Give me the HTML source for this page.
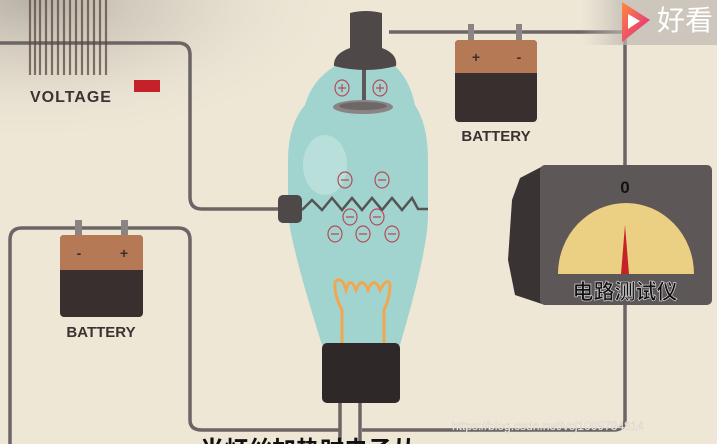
<!DOCTYPE html>
<html><head><meta charset="utf-8"><style>
html,body{margin:0;padding:0;background:#efe7d6;}
svg{display:block;}
</style></head><body>
<svg width="717" height="444" viewBox="0 0 717 444" xmlns="http://www.w3.org/2000/svg">
<defs>
<radialGradient id="vig" cx="0.1" cy="0" r="1">
<stop offset="0" stop-color="#8a8580" stop-opacity="0.55"/>
<stop offset="0.5" stop-color="#b0aba3" stop-opacity="0.25"/>
<stop offset="1" stop-color="#efe7d6" stop-opacity="0"/>
</radialGradient>
<linearGradient id="logo" x1="0" y1="0" x2="1" y2="1">
<stop offset="0" stop-color="#ff8a3c"/><stop offset="1" stop-color="#e0208a"/>
</linearGradient>
<linearGradient id="logobg" x1="0" y1="0" x2="1" y2="0">
<stop offset="0" stop-color="#cfcac2" stop-opacity="0"/><stop offset="0.3" stop-color="#bdb8b0" stop-opacity="0.7"/>
</linearGradient>
</defs>
<rect width="717" height="444" fill="#efe7d6"/>
<rect width="330" height="150" fill="url(#vig)"/>

<g fill="none" stroke="#6b6566" stroke-width="3.5">
<path d="M0 43 H178 Q190 43 190 55 V197 Q190 209 202 209 H282"/>
<path d="M389 32 H625 V170"/>
<path d="M625 300 V420 Q625 430 613 430 H362"/>
<path d="M10 444 V240 Q10 228 22 228 H178 Q190 228 190 240 V420 Q190 430 202 430 H340"/>
<path d="M340 400 V444 M360 400 V444"/>
</g>

<g>
<g stroke="#5a4a40" stroke-width="2.2" opacity="0.75">
<path d="M30 0V75M35 0V75M40 0V75M46 0V75M52 0V75M58 0V75M64 0V75M70 0V75M76 0V75M82 0V75M88 0V75M94 0V75M100 0V75M106 0V75"/>
</g>
<text x="30" y="102" font-family="Liberation Sans, sans-serif" font-weight="bold" font-size="16" fill="#3b3333" letter-spacing="1">VOLTAGE</text>
<rect x="134" y="80" width="26" height="12" fill="#c42228"/>
</g>

<g>
<rect x="468" y="24" width="6" height="18" fill="#8b8485"/>
<rect x="516" y="24" width="6" height="18" fill="#8b8485"/>
<rect x="455" y="40" width="82" height="82" rx="4" fill="#3a2f2f"/>
<path d="M455 44 Q455 40 459 40 H533 Q537 40 537 44 V73 H455Z" fill="#b57a55"/>
<text x="476" y="62" font-family="Liberation Sans, sans-serif" font-weight="bold" font-size="14" fill="#3a2f2f" text-anchor="middle">+</text>
<text x="519" y="62" font-family="Liberation Sans, sans-serif" font-weight="bold" font-size="14" fill="#3a2f2f" text-anchor="middle">-</text>
<text x="496" y="141" font-family="Liberation Sans, sans-serif" font-weight="bold" font-size="15" fill="#3b3333" text-anchor="middle">BATTERY</text>
</g>

<g>
<rect x="75" y="220" width="7" height="18" fill="#8b8485"/>
<rect x="121" y="220" width="7" height="18" fill="#8b8485"/>
<rect x="60" y="235" width="83" height="82" rx="4" fill="#3a2f2f"/>
<path d="M60 239 Q60 235 64 235 H139 Q143 235 143 239 V270 H60Z" fill="#b57a55"/>
<text x="79" y="258" font-family="Liberation Sans, sans-serif" font-weight="bold" font-size="14" fill="#3a2f2f" text-anchor="middle">-</text>
<text x="124" y="258" font-family="Liberation Sans, sans-serif" font-weight="bold" font-size="14" fill="#3a2f2f" text-anchor="middle">+</text>
<text x="101" y="337" font-family="Liberation Sans, sans-serif" font-weight="bold" font-size="15" fill="#3b3333" text-anchor="middle">BATTERY</text>
</g>

<g>
<path d="M335 66 Q365 58 395 66 Q410 80 415 105 Q428 125 428 160 L428 215 Q428 250 400 345 H322 Q292 250 288 215 L288 160 Q288 125 305 105 Q312 80 335 66Z" fill="#a2d4cf"/>
<ellipse cx="325" cy="165" rx="22" ry="30" fill="#fff" opacity="0.25"/>
<rect x="362" y="65" width="4" height="38" fill="#5e5758"/>
<ellipse cx="363" cy="107" rx="30" ry="7" fill="#8b8485"/>
<ellipse cx="363" cy="106" rx="24" ry="4" fill="#6e6768"/>
<path d="M350 13 Q366 9 382 13 V48 Q398 54 396 66 Q366 74 334 66 Q333 54 350 48Z" fill="#4f4849"/>
<g fill="none" stroke="#b64b58" stroke-width="1.2">
<ellipse cx="342" cy="88" rx="7" ry="8"/><ellipse cx="380" cy="88" rx="7" ry="8"/>
<path d="M338 88h8M342 84v8M376 88h8M380 84v8"/>
</g>
<path d="M302 210 L312 200 L322 210 L332 198 L342 210 L352 198 L362 210 L372 198 L382 210 L392 198 L402 210 L412 198 L418 209 H428" fill="none" stroke="#555" stroke-width="2.5"/>
<rect x="278" y="195" width="24" height="28" rx="5" fill="#4f4849"/>
<g fill="none" stroke="#b64b58" stroke-width="1.2">
<ellipse cx="345" cy="180" rx="7" ry="8"/><ellipse cx="382" cy="180" rx="7" ry="8"/>
<ellipse cx="350" cy="217" rx="7" ry="8"/><ellipse cx="377" cy="217" rx="7" ry="8"/>
<ellipse cx="335" cy="234" rx="7" ry="8"/><ellipse cx="363" cy="234" rx="7" ry="8"/><ellipse cx="392" cy="234" rx="7" ry="8"/>
<path d="M341 180h8M378 180h8M346 217h8M373 217h8M331 234h8M359 234h8M388 234h8"/>
</g>
<path d="M342 345 V310 Q334 295 335 282 Q342 275 346 290 Q350 275 356 290 Q362 275 368 290 Q374 275 380 290 Q388 276 390 285 Q390 298 384 310 V345" fill="none" stroke="#f0a850" stroke-width="3"/>
<rect x="322" y="343" width="78" height="60" rx="5" fill="#2f2829"/>
</g>

<g>
<path d="M520 178 L545 165 V305 L515 295 L508 260 L512 200Z" fill="#3a3334"/>
<rect x="540" y="165" width="172" height="140" rx="5" fill="#5e5758"/>
<text x="625" y="193" font-family="Liberation Sans, sans-serif" font-weight="bold" font-size="17" fill="#111" text-anchor="middle">0</text>
<path d="M558 274 A68 71 0 0 1 694 274Z" fill="#ebcf82"/>
<path d="M621 274 L625 225 L629 274Z" fill="#c42228"/>
<text x="625" y="299" font-family="Liberation Sans, 'Noto Sans CJK SC', sans-serif" font-weight="bold" font-size="21" fill="#111" stroke="#e6e6e6" stroke-width="0.6" text-anchor="middle">电路测试仪</text>
</g>

<g>
<rect x="580" y="0" width="137" height="45" fill="url(#logobg)"/>
<path d="M622 2 L650 20 L622 42Z" fill="url(#logo)"/>
<path d="M628 14 L640 21 L628 29Z" fill="#fff"/>
<text x="657" y="30" font-family="'Noto Sans CJK SC', sans-serif" font-size="28" fill="#fff">好看</text>
</g>

<text x="452" y="430" font-family="Liberation Sans, sans-serif" font-size="12" fill="#f4f1ec" stroke="#c8c4bc" stroke-width="0.3">https://blog.csdn.net/vcj1009784814</text>
<text x="200" y="458" font-family="'Noto Sans CJK SC', sans-serif" font-weight="bold" font-size="24" fill="#111">当灯丝加热时电子从</text>
</svg>
</body></html>
